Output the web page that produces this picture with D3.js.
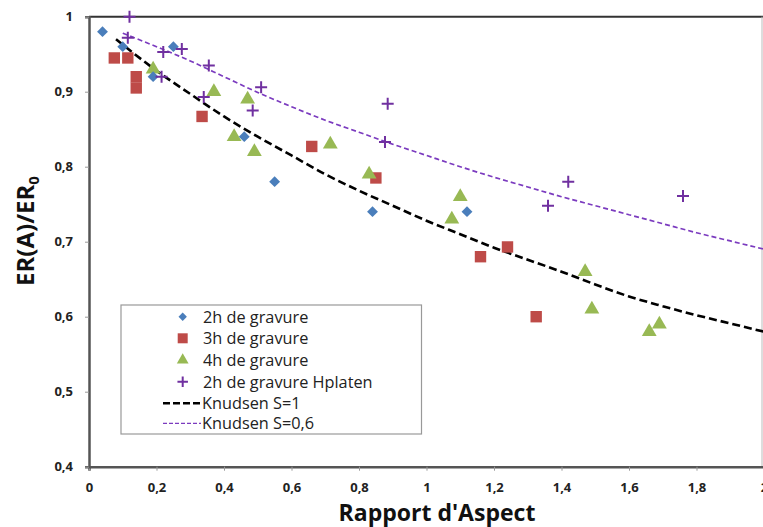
<!DOCTYPE html>
<html><head><meta charset="utf-8">
<script src="https://cdn.jsdelivr.net/npm/d3@7"></script>
<style>body{margin:0;background:#fff;} svg{display:block;}</style>
</head><body>
<script>
// ---- data ----
const s2h_x = [0.04, 0.10, 0.19, 0.25, 0.46, 0.55, 0.84, 1.12];
const s2h_y = [0.98, 0.96, 0.92, 0.96, 0.84, 0.78, 0.74, 0.74];
const s3h_x = [0.075, 0.115, 0.14, 0.14, 0.335, 0.66, 0.85, 1.16, 1.24, 1.325];
const s3h_y = [0.945, 0.945, 0.92, 0.905, 0.867, 0.827, 0.785, 0.68, 0.693, 0.60];
const s4h_x = [0.19, 0.37, 0.43, 0.47, 0.49, 0.715, 0.83, 1.10, 1.075, 1.47, 1.49, 1.66, 1.69];
const s4h_y = [0.93, 0.90, 0.84, 0.89, 0.82, 0.83, 0.79, 0.76, 0.73, 0.66, 0.61, 0.58, 0.59];
const hp_x = [0.12, 0.115, 0.22, 0.275, 0.215, 0.355, 0.34, 0.51, 0.485, 0.885, 0.877, 1.42, 1.36, 1.76];
const hp_y = [1.0, 0.972, 0.953, 0.957, 0.92, 0.935, 0.893, 0.906, 0.875, 0.884, 0.833, 0.78, 0.748, 0.761];
const k1_x = [0.08, 0.2, 0.3, 0.4, 0.5, 0.6, 0.7, 0.8, 0.9, 1.0, 1.1, 1.2, 1.3, 1.4, 1.5, 1.6, 1.7, 1.8, 1.9, 2.0];
const k1_y = [0.970, 0.928, 0.897, 0.867, 0.840, 0.815, 0.790, 0.768, 0.748, 0.728, 0.710, 0.692, 0.676, 0.660, 0.643, 0.627, 0.614, 0.602, 0.591, 0.580];
const k06_x = [0.1, 0.2, 0.3, 0.4, 0.5, 0.6, 0.7, 0.8, 0.9, 1.0, 1.1, 1.2, 1.3, 1.4, 1.5, 1.6, 1.7, 1.8, 1.9, 2.0];
const k06_y = [0.978, 0.960, 0.941, 0.920, 0.899, 0.880, 0.862, 0.846, 0.830, 0.815, 0.800, 0.786, 0.773, 0.760, 0.748, 0.736, 0.724, 0.712, 0.701, 0.690];
const xTicks = [0, 0.2, 0.4, 0.6, 0.8, 1, 1.2, 1.4, 1.6, 1.8, 2];
const yTicks = [0.4, 0.5, 0.6, 0.7, 0.8, 0.9, 1];
const legendLabels = ["2h de gravure", "3h de gravure", "4h de gravure", "2h de gravure Hplaten", "Knudsen S=1", "Knudsen S=0,6"];

const W = 763, H = 527;
const m = {l: 89, r: 764, t: 16.7, b: 466.7};
const svg = d3.select("body").append("svg").attr("width", W).attr("height", H);
const x = d3.scaleLinear().domain([0, 2]).range([m.l, m.r]);
const y = d3.scaleLinear().domain([0.4, 1]).range([m.b, m.t]);
const fmt = d => String(+d.toFixed(1)).replace(".", ",");
const font = "'Open Sans', 'DejaVu Sans', sans-serif";

// custom plus symbol (size = full width squared)
const plusType = { draw(ctx, size) { const r = Math.sqrt(size) / 2;
  ctx.moveTo(-r, 0); ctx.lineTo(r, 0); ctx.moveTo(0, -r); ctx.lineTo(0, r); } };

// frame: top and right
svg.append("line").attr("x1", m.l).attr("x2", W).attr("y1", m.t).attr("y2", m.t).attr("stroke", "#333").attr("stroke-width", 2);
svg.append("line").attr("x1", 762).attr("x2", 762).attr("y1", m.t).attr("y2", m.b).attr("stroke", "#bbb").attr("stroke-width", 1);

// axes
const xa = svg.append("g").attr("transform", `translate(0,${m.b})`)
  .call(d3.axisBottom(x).tickValues(xTicks).tickFormat(fmt).tickSize(4).tickPadding(12));
const ya = svg.append("g").attr("transform", `translate(${m.l},0)`)
  .call(d3.axisLeft(y).tickValues(yTicks).tickFormat(fmt).tickSize(4).tickPadding(12));
[xa, ya].forEach(a => {
  a.select(".domain").attr("stroke", "#555").attr("stroke-width", 2.5);
  a.selectAll(".tick line").attr("stroke", "#999").attr("stroke-width", 1);
  a.selectAll(".tick text").attr("font-family", font).attr("font-weight", "bold").attr("font-size", 13).attr("fill", "#222");
});

// curves
const line = d3.line().x(d => x(d[0])).y(d => y(d[1])).curve(d3.curveMonotoneX);
svg.append("path").datum(k1_x.map((v, i) => [v, k1_y[i]])).attr("d", line)
  .attr("fill", "none").attr("stroke", "#000").attr("stroke-width", 2.6).attr("stroke-dasharray", "8,4");
svg.append("path").datum(k06_x.map((v, i) => [v, k06_y[i]])).attr("d", line)
  .attr("fill", "none").attr("stroke", "#7b3bbf").attr("stroke-width", 1.7).attr("stroke-dasharray", "5,3");

// markers
const diamond = d3.symbol().type(d3.symbolDiamond2).size(75);
const square = d3.symbol().type(d3.symbolSquare).size(130);
const tri = d3.symbol().type(d3.symbolTriangle).size(95);
const plus = d3.symbol().type(plusType).size(144);
function pts(xs, ys) { return xs.map((v, i) => [v, ys[i]]); }
svg.append("g").selectAll("path").data(pts(s3h_x, s3h_y)).join("path")
  .attr("transform", d => `translate(${x(d[0])},${y(d[1])})`).attr("d", square).attr("fill", "#be4b48");
svg.append("g").selectAll("path").data(pts(s4h_x, s4h_y)).join("path")
  .attr("transform", d => `translate(${x(d[0])},${y(d[1])})`).attr("d", tri).attr("fill", "#98b954");
svg.append("g").selectAll("path").data(pts(s2h_x, s2h_y)).join("path")
  .attr("transform", d => `translate(${x(d[0])},${y(d[1])})`).attr("d", diamond).attr("fill", "#4a7ebb");
svg.append("g").selectAll("path").data(pts(hp_x, hp_y)).join("path")
  .attr("transform", d => `translate(${x(d[0])},${y(d[1])})`).attr("d", plus).attr("fill", "none").attr("stroke", "#7030a0").attr("stroke-width", 2);

// legend
const lg = svg.append("g");
lg.append("rect").attr("x", 121).attr("y", 305).attr("width", 300.5).attr("height", 129)
  .attr("fill", "#fff").attr("stroke", "#999").attr("stroke-width", 1.2);
const rowY = [316.7, 338.3, 360, 381.7, 403.3, 423.3];
const mk = [
  g => g.append("path").attr("d", d3.symbol().type(d3.symbolDiamond2).size(45)).attr("fill", "#4a7ebb"),
  g => g.append("path").attr("d", d3.symbol().type(d3.symbolSquare).size(100)).attr("fill", "#be4b48"),
  g => g.append("path").attr("d", d3.symbol().type(d3.symbolTriangle).size(60)).attr("fill", "#98b954"),
  g => g.append("path").attr("d", d3.symbol().type(plusType).size(110)).attr("fill", "none").attr("stroke", "#7030a0").attr("stroke-width", 2)
];
legendLabels.forEach((lab, i) => {
  if (i < 4) {
    mk[i](lg.append("g").attr("transform", `translate(182.7,${rowY[i]})`));
    lg.append("text").attr("x", 203).attr("y", rowY[i]).attr("dy", "0.36em").text(lab)
      .attr("font-family", font).attr("font-size", 16.3).attr("fill", "#222");
  } else {
    const k = i === 4;
    lg.append("line").attr("x1", 163).attr("x2", 201).attr("y1", rowY[i]).attr("y2", rowY[i])
      .attr("stroke", k ? "#000" : "#7b3bbf").attr("stroke-width", k ? 2.4 : 1.2)
      .attr("stroke-dasharray", k ? "7,3" : "4,2");
    lg.append("text").attr("x", 202).attr("y", rowY[i]).attr("dy", "0.36em").text(lab)
      .attr("font-family", font).attr("font-size", 16.3).attr("fill", "#222");
  }
});

// axis titles
svg.append("text").attr("x", 437).attr("y", 521).attr("text-anchor", "middle")
  .attr("font-family", font).attr("font-weight", "bold").attr("font-size", 23).attr("fill", "#111")
  .text("Rapport d'Aspect");
const yt = svg.append("text").attr("transform", "translate(34,231) rotate(-90)").attr("text-anchor", "middle")
  .attr("font-family", font).attr("font-weight", "bold").attr("font-size", 24).attr("fill", "#111");
yt.append("tspan").text("ER(A)/ER");
yt.append("tspan").attr("font-size", 15).attr("dy", 5).text("0");
</script>
</body></html>
